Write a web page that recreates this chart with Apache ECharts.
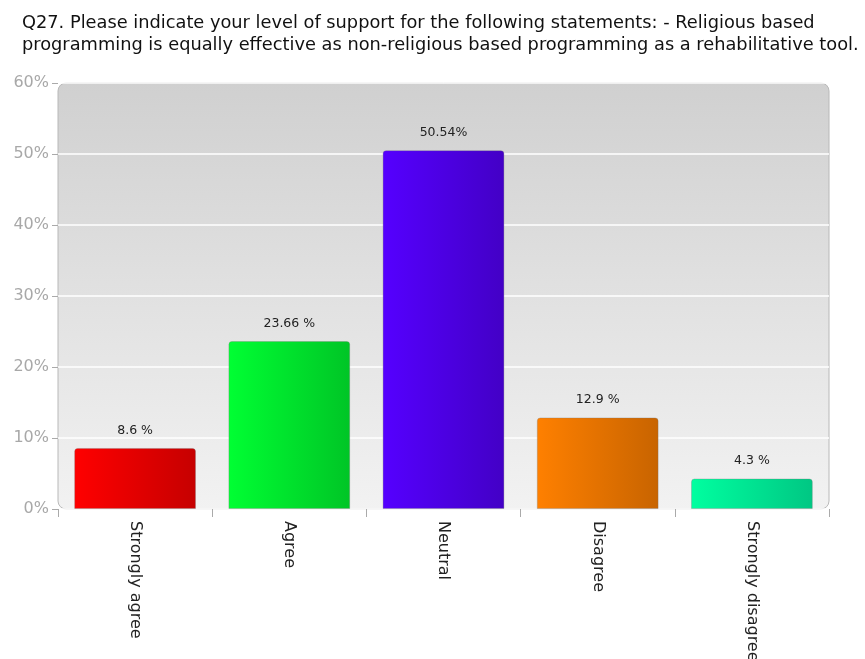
<!DOCTYPE html>
<html>
<head>
<meta charset="utf-8">
<script src="https://cdn.jsdelivr.net/npm/echarts@6/dist/echarts.min.js"></script>
<style>html,body{margin:0;padding:0;background:#fff;}#c{width:865px;height:659px;}</style>
</head>
<body>
<div id="c"></div>
<script>
const titleLines = [
  "Q27. Please indicate your level of support for the following statements: - Religious based",
  "programming is equally effective as non-religious based programming as a rehabilitative tool."
];
const categories = ["Strongly agree", "Agree", "Neutral", "Disagree", "Strongly disagree"];
const values = [8.6, 23.66, 50.54, 12.9, 4.3];
const valueLabels = ["8.6 %", "23.66 %", "50.54%", "12.9 %", "4.3 %"];
const yTicks = [0, 10, 20, 30, 40, 50, 60];
const lightColors = ["#ff0000", "#00ff33", "#5500ff", "#ff8000", "#00ffa0"];
const darkColors = ["#c60000", "#00c526", "#4300c6", "#c86400", "#00c783"];

const G = {left: 58, top: 83, right: 36, bottom: 150};
const chart = echarts.init(document.getElementById('c'));
const W = 865, H = 659;
const FONT = "DejaVu Sans, Liberation Sans, sans-serif";

chart.setOption({
  animation: false,
  textStyle: {fontFamily: FONT},
  title: {
    text: titleLines.join("\n"),
    left: 22, top: 12, padding: 0,
    textStyle: {fontSize: 17.8, fontWeight: "normal", color: "#111", lineHeight: 22, fontFamily: FONT}
  },
  graphic: [{
    type: 'rect', z: -1, silent: true,
    shape: {x: G.left, y: G.top, width: W - G.left - G.right, height: H - G.top - G.bottom, r: 8},
    style: {
      fill: new echarts.graphic.LinearGradient(0, 0, 0, 1, [
        {offset: 0, color: "#d0d0d0"}, {offset: 1, color: "#f2f2f2"}
      ]),
      stroke: "#b8b8b8", lineWidth: 1
    }
  }],
  grid: {left: G.left, top: G.top, right: G.right, bottom: G.bottom, containLabel: false, outerBoundsMode: 'none'},
  xAxis: {
    type: 'category', data: categories,
    axisLine: {show: false},
    axisTick: {show: true, length: 8, lineStyle: {color: "#aaa"}, alignWithLabel: false},
    axisLabel: {rotate: -90, color: "#222", fontSize: 16, margin: 12, interval: 0, fontFamily: FONT}
  },
  yAxis: {
    type: 'value', min: 0, max: 60, interval: 10,
    axisLine: {show: false},
    axisTick: {show: true, length: 6, lineStyle: {color: "#aaa"}},
    axisLabel: {formatter: v => yTicks.includes(v) ? v + "%" : "", color: "#a8a8a8", fontSize: 16, margin: 9, fontFamily: FONT},
    splitLine: {show: true, lineStyle: {color: "#ffffff", width: 1.5}}
  },
  series: [{
    type: 'bar',
    barCategoryGap: '21%',
    data: values.map((v, i) => ({
      value: v,
      itemStyle: {
        color: new echarts.graphic.LinearGradient(0, 0, 1, 0, [
          {offset: 0, color: lightColors[i]}, {offset: 1, color: darkColors[i]}
        ]),
        borderRadius: [3, 3, 0, 0],
        borderColor: "rgba(120,120,120,0.3)", borderWidth: 1
      },
      label: {formatter: valueLabels[i]}
    })),
    label: {show: true, position: 'top', distance: 11, color: "#222", fontSize: 12.5, fontFamily: FONT}
  }]
});
</script>
</body>
</html>
